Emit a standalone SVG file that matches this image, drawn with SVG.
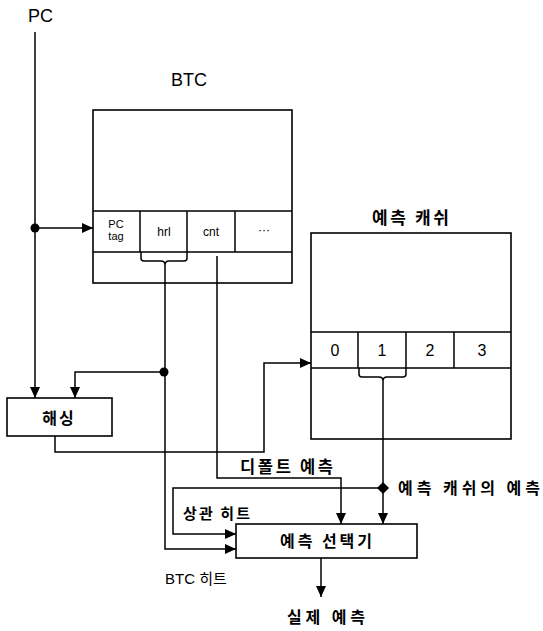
<svg xmlns="http://www.w3.org/2000/svg" width="543" height="631" viewBox="0 0 543 631">
<defs>
<marker id="arr" markerUnits="userSpaceOnUse" markerWidth="12" markerHeight="10" refX="11" refY="5" orient="auto">
<path d="M0,0 L11,5 L0,10 Z" fill="#000"/>
</marker>
<style>
.box{fill:#fff;stroke:#000;stroke-width:1.6}
.ln{fill:none;stroke:#000;stroke-width:1.5}
.c{fill:none;stroke:#000;stroke-width:1.5}
.ca{fill:none;stroke:#000;stroke-width:1.5;marker-end:url(#arr)}
.lat{font-family:"Liberation Sans",Arial,sans-serif;fill:#000}
.ko{font-family:"Noto Sans CJK KR","Liberation Sans",sans-serif;fill:#000;font-weight:bold}
.mid{text-anchor:middle}
</style>
</defs>
<rect width="543" height="631" fill="#fff"/>

<g id="pc-label">
<text class="lat" x="28" y="22" font-size="18">PC</text>
</g>

<g id="btc">
<text class="lat mid" x="189" y="86" font-size="18">BTC</text>
<rect class="box" x="93" y="110" width="199" height="173"/>
<path class="ln" d="M93 211 H292 M93 252 H292 M140 211 V252 M187 211 V252 M235 211 V252"/>
<text class="lat mid" x="116" y="228" font-size="11">PC</text>
<text class="lat mid" x="116" y="240" font-size="11">tag</text>
<text class="lat mid" x="164" y="236" font-size="12">hrl</text>
<text class="lat mid" x="211" y="236" font-size="12">cnt</text>
<text class="lat mid" x="264" y="234" font-size="12">···</text>
</g>

<g id="pred-cache">
<text class="ko" x="372" y="224" font-size="17" textLength="77" lengthAdjust="spacing">예측 캐쉬</text>
<rect class="box" x="311" y="233" width="200" height="206"/>
<path class="ln" d="M311 332 H511 M311 368 H511 M358 332 V368 M406 332 V368 M454 332 V368"/>
<text class="lat mid" x="335" y="356" font-size="16">0</text>
<text class="lat mid" x="382" y="356" font-size="16">1</text>
<text class="lat mid" x="430" y="356" font-size="16">2</text>
<text class="lat mid" x="482" y="356" font-size="16">3</text>
</g>

<g id="hashing">
<rect class="box" x="7" y="398" width="105" height="38"/>
<text class="ko mid" x="59" y="424" font-size="16" letter-spacing="2">해싱</text>
</g>

<g id="selector">
<rect class="box" x="236" y="524" width="181" height="34"/>
<text class="ko" x="280" y="547" font-size="16" textLength="92" lengthAdjust="spacing">예측 선택기</text>
</g>

<g id="connectors">
<path class="ca" d="M35 32 V398"/>
<path class="ca" d="M35 228 H93"/>
<circle cx="35" cy="228" r="4.5" fill="#000"/>
<path class="c" d="M141 252 V258 Q141 261 144 261 H161 Q165 261 165 265 Q165 261 169 261 H184 Q187 261 187 258 V252"/>
<path class="ca" d="M165 265 V549 H236"/>
<circle cx="164" cy="372" r="4.5" fill="#000"/>
<path class="ca" d="M164 372 H75 V398"/>
<path class="ca" d="M217 256 V478 H341 V524"/>
<path class="ca" d="M55 436 V452 H264 V363 H311"/>
<path class="c" d="M359 368 V374 Q359 377 362 377 H379 Q383 377 383 381 Q383 377 387 377 H403 Q406 377 406 374 V368"/>
<path class="ca" d="M383 381 V524"/>
<path class="ca" d="M383 488 H173 V534 H236"/>
<path d="M383 482 L389 488 L383 494 L377 488 Z" fill="#000"/>
<path class="ca" d="M321 558 V597"/>
</g>

<g id="labels">
<text class="ko" x="240" y="473" font-size="16.5" textLength="93" lengthAdjust="spacing">디폴트 예측</text>
<text class="ko" x="398" y="494" font-size="16" textLength="142" lengthAdjust="spacing">예측 캐쉬의 예측</text>
<text class="ko" x="183" y="519" font-size="15" textLength="67" lengthAdjust="spacing" font-weight="normal">상관 히트</text>
<text class="lat" x="165" y="584" font-size="15">BTC <tspan font-family="Noto Sans CJK KR, sans-serif">히트</tspan></text>
<text class="ko" x="287" y="623" font-size="16" textLength="78" lengthAdjust="spacing">실제 예측</text>
</g>
</svg>
